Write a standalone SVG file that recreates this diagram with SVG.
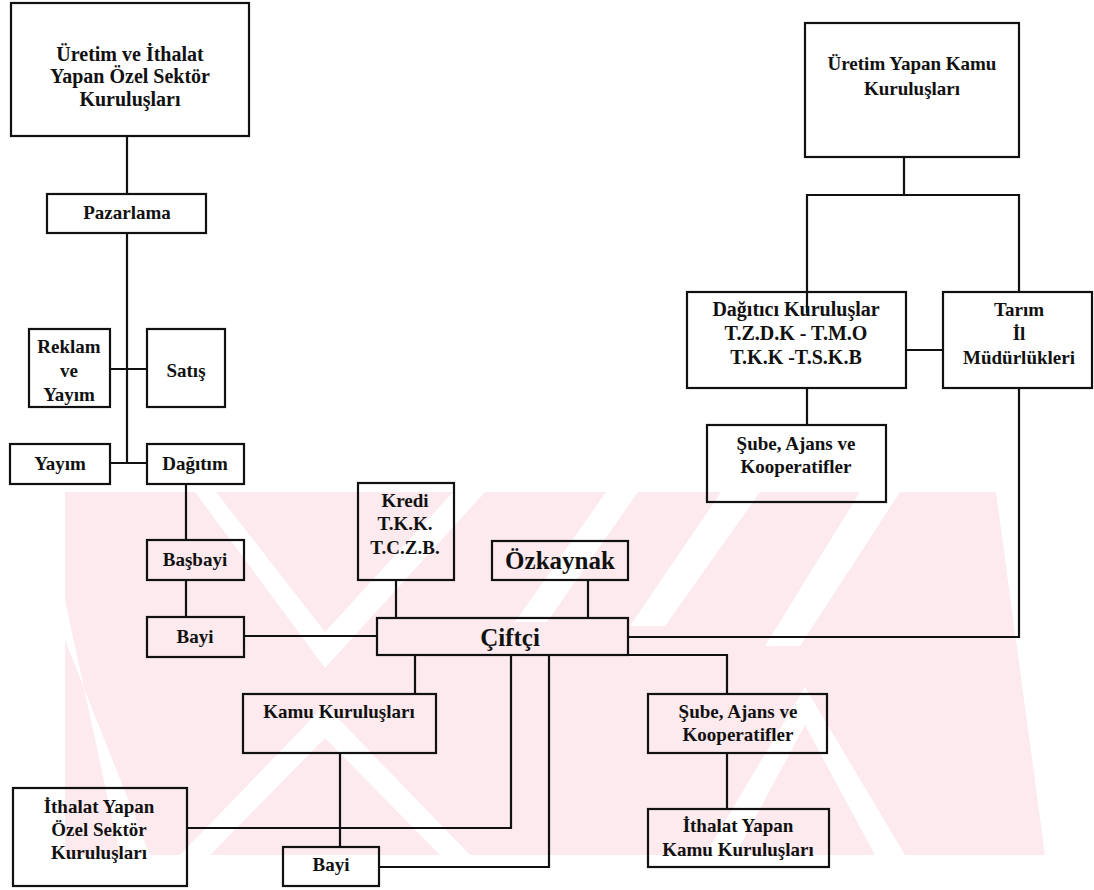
<svg xmlns="http://www.w3.org/2000/svg" width="1094" height="890" viewBox="0 0 1094 890">
<style>
.b{fill:none;stroke:#111;stroke-width:2.2}
.c{fill:none;stroke:#111;stroke-width:2.2}
.t{font-family:"Liberation Serif","Times New Roman",serif;font-weight:bold;font-size:19px;fill:#111;text-anchor:middle}
.l{font-size:25px}
.m{font-size:20px}
.wm{fill:#fdeaee}
.wg{fill:#fff}
</style>
<defs>
<clipPath id="band"><rect x="60" y="492" width="1000" height="363"/></clipPath>
</defs>
<rect width="1094" height="890" fill="#fff"/>
<g id="watermark" clip-path="url(#band)">
<polygon class="wm" points="65,492 996,492 1045,855 65,855"/>
<polygon class="wg" points="195,492 216,492 325,632 453,492 485,492 325,668"/>
<polygon class="wg" points="325,705 470,855 440,855 325,738 210,855 180,855"/>
<polygon class="wg" points="65,600 65,640 150,855 120,855"/>
<polygon class="wg" points="606,492 638,492 547,622 515,622"/>
<polygon class="wg" points="721,492 760,492 665,626 630,626"/>
<polygon class="wg" points="860,492 900,492 800,646 765,646"/>
<polygon class="wg" points="805,687 905,855 875,855 805,725 735,855 705,855"/>
</g>
<g id="connectors">
<polyline class="c" points="127,136 127,194"/>
<polyline class="c" points="127,233 127,463"/>
<polyline class="c" points="110,369 147,369"/>
<polyline class="c" points="110,463 147,463"/>
<polyline class="c" points="186,484 186,540"/>
<polyline class="c" points="186,580 186,617"/>
<polyline class="c" points="244,636 377,636"/>
<polyline class="c" points="396,580 396,618"/>
<polyline class="c" points="588,580 588,618"/>
<polyline class="c" points="628,637 1019,637 1019,388"/>
<polyline class="c" points="628,655 727,655 727,694"/>
<polyline class="c" points="415,655 415,694"/>
<polyline class="c" points="511,655 511,828 187,828"/>
<polyline class="c" points="549,655 549,867 379,867"/>
<polyline class="c" points="340,753 340,847"/>
<polyline class="c" points="727,753 727,809"/>
<polyline class="c" points="904,157 904,195"/>
<polyline class="c" points="807,313 807,195 1019,195 1019,292"/>
<polyline class="c" points="906,350 943,350"/>
<polyline class="c" points="807,388 807,425"/>
</g>
<g id="n-uretim-ozel"><rect class="b" x="11" y="3" width="238" height="133"/>
<text class="t m" x="130" y="61">Üretim ve İthalat</text>
<text class="t m" x="130" y="83">Yapan Özel Sektör</text>
<text class="t m" x="130" y="106">Kuruluşları</text></g>
<g id="n-pazarlama"><rect class="b" x="47" y="194" width="159" height="39"/>
<text class="t" x="127" y="219">Pazarlama</text></g>
<g id="n-reklam"><rect class="b" x="29" y="329" width="81" height="78"/>
<text class="t" x="69" y="353">Reklam</text>
<text class="t" x="69" y="377">ve</text>
<text class="t" x="69" y="401">Yayım</text></g>
<g id="n-satis"><rect class="b" x="147" y="329" width="78" height="78"/>
<text class="t" x="186" y="377">Satış</text></g>
<g id="n-yayim"><rect class="b" x="10" y="444" width="100" height="40"/>
<text class="t" x="60" y="470">Yayım</text></g>
<g id="n-dagitim"><rect class="b" x="147" y="444" width="97" height="40"/>
<text class="t" x="195" y="470">Dağıtım</text></g>
<g id="n-basbayi"><rect class="b" x="147" y="540" width="97" height="40"/>
<text class="t" x="195" y="566">Başbayi</text></g>
<g id="n-bayi1"><rect class="b" x="147" y="617" width="97" height="40"/>
<text class="t" x="195" y="643">Bayi</text></g>
<g id="n-kredi"><rect class="b" x="358" y="483" width="96" height="97"/>
<text class="t" x="405" y="507">Kredi</text>
<text class="t" x="405" y="530">T.K.K.</text>
<text class="t" x="405" y="554">T.C.Z.B.</text></g>
<g id="n-ozkaynak"><rect class="b" x="492" y="541" width="136" height="39"/>
<text class="t l" x="560" y="569">Özkaynak</text></g>
<g id="n-ciftci"><rect class="b" x="377" y="618" width="251" height="37"/>
<text class="t l" x="510" y="646">Çiftçi</text></g>
<g id="n-kamu"><rect class="b" x="243" y="694" width="193" height="59"/>
<text class="t" x="339" y="718">Kamu Kuruluşları</text></g>
<g id="n-ithalat-ozel"><rect class="b" x="13" y="788" width="174" height="98"/>
<text class="t" x="99" y="813">İthalat Yapan</text>
<text class="t" x="99" y="836">Özel Sektör</text>
<text class="t" x="99" y="859">Kuruluşları</text></g>
<g id="n-bayi2"><rect class="b" x="283" y="847" width="96" height="39"/>
<text class="t" x="331" y="871">Bayi</text></g>
<g id="n-sube2"><rect class="b" x="648" y="694" width="179" height="59"/>
<text class="t" x="738" y="718">Şube, Ajans ve</text>
<text class="t" x="738" y="741">Kooperatifler</text></g>
<g id="n-ithalat-kamu"><rect class="b" x="648" y="809" width="181" height="58"/>
<text class="t" x="738" y="832">İthalat Yapan</text>
<text class="t" x="738" y="856">Kamu Kuruluşları</text></g>
<g id="n-uretim-kamu"><rect class="b" x="805" y="23" width="214" height="134"/>
<text class="t" x="912" y="70">Üretim Yapan Kamu</text>
<text class="t" x="912" y="95">Kuruluşları</text></g>
<g id="n-dagitici"><rect class="b" x="687" y="292" width="219" height="96"/>
<text class="t m" x="796" y="316">Dağıtıcı Kuruluşlar</text>
<text class="t m" x="796" y="340">T.Z.D.K - T.M.O</text>
<text class="t m" x="796" y="364">T.K.K -T.S.K.B</text></g>
<g id="n-tarim"><rect class="b" x="943" y="292" width="149" height="96"/>
<text class="t" x="1019" y="316">Tarım</text>
<text class="t" x="1019" y="340">İl</text>
<text class="t" x="1019" y="364">Müdürlükleri</text></g>
<g id="n-sube1"><rect class="b" x="707" y="425" width="179" height="77"/>
<text class="t" x="796" y="450">Şube, Ajans ve</text>
<text class="t" x="796" y="473">Kooperatifler</text></g>
</svg>
